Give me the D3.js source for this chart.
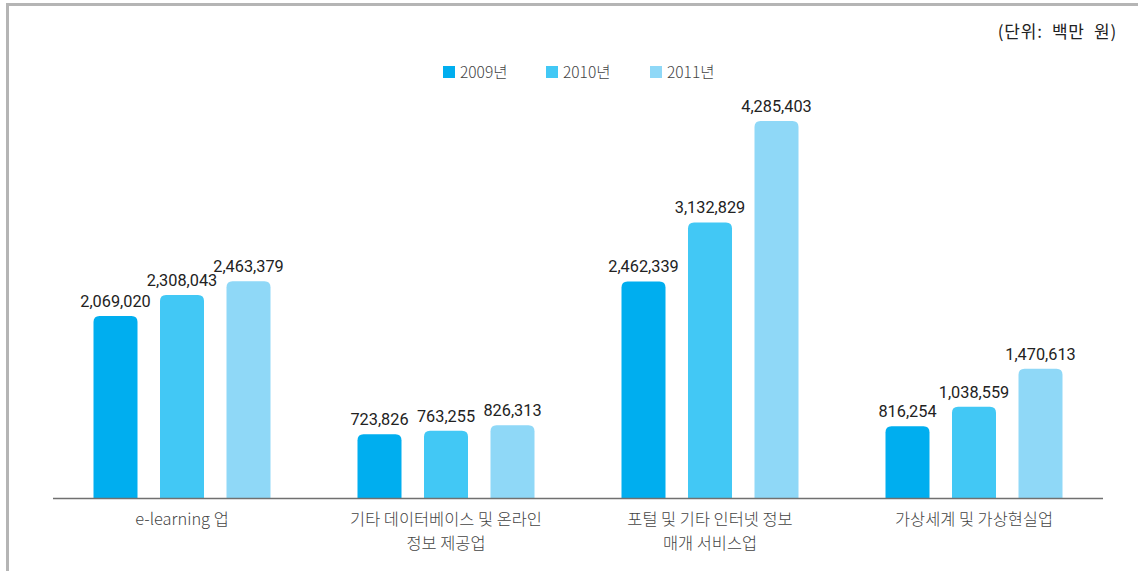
<!DOCTYPE html>
<html>
<head>
<meta charset="utf-8">
<script src="https://cdn.jsdelivr.net/npm/d3@7"></script>
<style>
  html, body { margin: 0; padding: 0; background: #fff; }
  svg { display: block; }
  text { white-space: pre; }
</style>
</head>
<body>
<svg id="chart" width="1138" height="571"></svg>
<script>
// Categories (two-line labels) and yearly values, unit: million won
const categories = [
  ["e-learning 업"],
  ["기타 데이터베이스 및 온라인", "정보 제공업"],
  ["포털 및 기타 인터넷 정보", "매개 서비스업"],
  ["가상세계 및 가상현실업"]
];
const years = ["2009년", "2010년", "2011년"];
const values2009 = [2069020, 723826, 2462339, 816254];
const values2010 = [2308043, 763255, 3132829, 1038559];
const values2011 = [2463379, 826313, 4285403, 1470613];
const colors = ["#00aeef", "#42c8f5", "#8fd8f7"];
const unitLabel = "(단위:  백만  원)";

const seriesList = [values2009, values2010, values2011];

const svg = d3.select("#chart");
const W = 1138, H = 571;
const baseY = 498;
const korFont = "'Noto Sans CJK KR', 'Noto Sans', sans-serif";
const numFont = "Roboto, 'Noto Sans', sans-serif";

// Frame lines (left and top)
svg.append("rect").attr("x", 6).attr("y", 3).attr("width", W - 6).attr("height", 3).attr("fill", "#b5b5b5");
svg.append("rect").attr("x", 6).attr("y", 3).attr("width", 3).attr("height", H - 3).attr("fill", "#b5b5b5");

const x0 = d3.scaleBand().domain(d3.range(categories.length)).range([50, 1106]);
const y = d3.scaleLinear().domain([0, 4285403]).range([baseY, 121]);

function topRounded(x, yTop, w, h, r) {
  r = Math.min(r, h, w / 2);
  return `M${x},${yTop + h}V${yTop + r}Q${x},${yTop} ${x + r},${yTop}H${x + w - r}Q${x + w},${yTop} ${x + w},${yTop + r}V${yTop + h}Z`;
}

const barW = 44;
const step = 66.5;

categories.forEach((cat, ci) => {
  const cx = x0(ci) + x0.bandwidth() / 2;
  seriesList.forEach((vals, si) => {
    const v = vals[ci];
    const bx = cx + (si - 1) * step - barW / 2;
    const top = y(v);
    svg.append("path")
      .attr("d", topRounded(bx, top, barW, baseY - top, 6))
      .attr("fill", colors[si]);
    svg.append("text")
      .attr("x", bx + barW / 2)
      .attr("y", top - 9)
      .attr("text-anchor", "middle")
      .attr("font-family", numFont)
      .attr("font-size", 16.3)
      .attr("fill", "#222")
      .text(d3.format(",")(v));
  });
  // Category label lines
  cat.forEach((line, li) => {
    svg.append("text")
      .attr("x", cx)
      .attr("y", 525 + li * 24)
      .attr("text-anchor", "middle")
      .attr("font-family", korFont)
      .attr("font-weight", 300)
      .attr("font-size", 16.4)
      .attr("fill", "#444")
      .text(line);
  });
});

// Baseline axis
svg.append("line")
  .attr("x1", 53).attr("x2", 1103)
  .attr("y1", baseY + 0.5).attr("y2", baseY + 0.5)
  .attr("stroke", "#707070").attr("stroke-width", 1.5);

// Legend
const legendX = [443, 546, 650];
years.forEach((yr, i) => {
  const g = svg.append("g").attr("transform", `translate(${legendX[i]},66)`);
  g.append("rect").attr("width", 12).attr("height", 12).attr("fill", colors[i]);
  g.append("text")
    .attr("x", 17).attr("y", 12)
    .attr("font-family", korFont)
    .attr("font-weight", 300)
    .attr("font-size", 15.5)
    .attr("fill", "#444")
    .text(yr);
});

// Unit label
svg.append("text")
  .attr("x", 1117).attr("y", 38)
  .attr("text-anchor", "end")
  .attr("font-family", korFont)
  .attr("font-size", 17)
  .attr("letter-spacing", 0.8)
  .attr("fill", "#222")
  .text(unitLabel);
</script>
</body>
</html>
